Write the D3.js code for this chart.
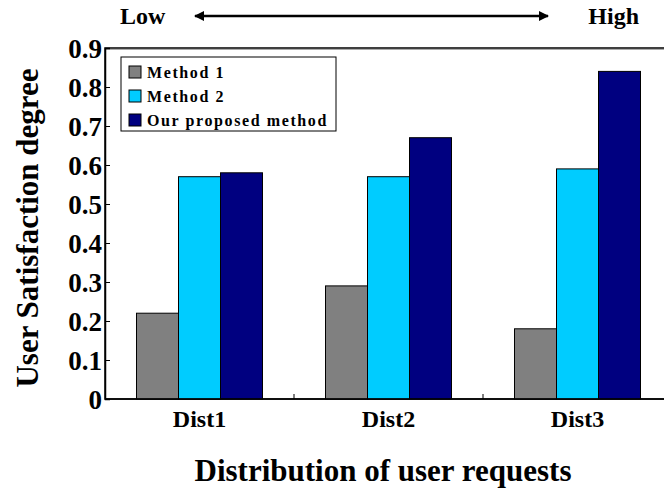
<!DOCTYPE html>
<html><head><meta charset="utf-8">
<script src="https://cdn.jsdelivr.net/npm/d3@7"></script>
<style>body{margin:0;background:#fff}svg{display:block}text{font-family:"Liberation Serif","Times New Roman",Tinos,"DejaVu Serif",serif !important;font-weight:bold;fill:#000}</style>
</head><body>
<svg id="c" width="664" height="491"></svg>
<script>
const categories = ["Dist1", "Dist2", "Dist3"];
const seriesNames = ["Method 1", "Method 2", "Our proposed method"];
const method1 = [0.22, 0.29, 0.18];
const method2 = [0.57, 0.57, 0.59];
const proposed = [0.58, 0.67, 0.84];
const yTicks = [0, 0.1, 0.2, 0.3, 0.4, 0.5, 0.6, 0.7, 0.8, 0.9];
const colors = ["#808080", "#00CCFF", "#000080"];
const series = [method1, method2, proposed];

const svg = d3.select("#c");
const L = 105, R = 672, T = 48, B = 399;
const x = d3.scaleBand().domain(categories).range([L, R]).paddingInner(0).paddingOuter(0);
const xs = d3.scaleBand().domain(d3.range(3)).range([0, x.bandwidth()]).paddingInner(0).paddingOuter(0.75);
const y = d3.scaleLinear().domain([0, 0.9]).range([B, T]);

// frame
svg.append("rect").attr("x", L).attr("y", T).attr("width", R - L).attr("height", B - T)
  .attr("fill", "none").attr("stroke", "#000").attr("stroke-width", 1.5);
svg.append("line").attr("x1", L).attr("x2", R).attr("y1", T + 1.5).attr("y2", T + 1.5).attr("stroke", "#aaa").attr("stroke-width", 1);

// bars
categories.forEach((c, i) => {
  series.forEach((s, j) => {
    svg.append("rect")
      .attr("x", x(c) + xs(j)).attr("y", y(s[i]))
      .attr("width", xs.bandwidth()).attr("height", y(0) - y(s[i]))
      .attr("fill", colors[j]).attr("stroke", "#000").attr("stroke-width", 1);
  });
});

// y axis
const ya = svg.append("g").attr("transform", `translate(${L},0)`)
  .call(d3.axisLeft(y).tickValues(yTicks).tickSize(-5).tickPadding(3).tickFormat(d => d === 0 ? "0" : d3.format(".1f")(d)));
ya.select(".domain").attr("stroke", "#000").attr("stroke-width", 1.5);
ya.selectAll(".tick line").attr("stroke", "#000");
ya.selectAll(".tick text").style("font-size", "27px").attr("dy", "0.34em");

// x axis
const xa = svg.append("g").attr("transform", `translate(0,${B})`)
  .call(d3.axisBottom(x).tickSize(0).tickPadding(11));
xa.select(".domain").remove();
xa.selectAll(".tick text").style("font-size", "24px");
categories.slice(1).forEach(c => {
  svg.append("line").attr("x1", x(c)).attr("x2", x(c)).attr("y1", B).attr("y2", B - 5).attr("stroke", "#000");
});
svg.append("line").attr("x1", L).attr("x2", R).attr("y1", B).attr("y2", B).attr("stroke", "#000").attr("stroke-width", 1.5);

// titles
svg.append("text").attr("x", 383).attr("y", 481).attr("text-anchor", "middle").style("font-size", "31px").text("Distribution of user requests");
svg.append("text").attr("transform", "translate(38,228) rotate(-90)").attr("text-anchor", "middle").style("font-size", "31px").text("User Satisfaction degree");

// Low / High arrow
svg.append("text").attr("x", 120).attr("y", 24).style("font-size", "24px").text("Low");
svg.append("text").attr("x", 639).attr("y", 24).attr("text-anchor", "end").style("font-size", "24px").text("High");
const defs = svg.append("defs");
defs.append("marker").attr("id", "ah").attr("viewBox", "0 0 10 10").attr("refX", 9).attr("refY", 5)
  .attr("markerWidth", 5).attr("markerHeight", 4).attr("orient", "auto-start-reverse")
  .append("path").attr("d", "M0,0L10,5L0,10z").attr("fill", "#000");
svg.append("line").attr("x1", 195).attr("x2", 548).attr("y1", 16).attr("y2", 16)
  .attr("stroke", "#000").attr("stroke-width", 2.5)
  .attr("marker-start", "url(#ah)").attr("marker-end", "url(#ah)");

// legend
const lg = svg.append("g");
lg.append("rect").attr("x", 121).attr("y", 57).attr("width", 215).attr("height", 74)
  .attr("fill", "#fff").attr("stroke", "#000").attr("stroke-width", 1);
seriesNames.forEach((n, j) => {
  const cy = 72 + j * 24;
  lg.append("rect").attr("x", 129).attr("y", cy - 6).attr("width", 12).attr("height", 12)
    .attr("fill", colors[j]).attr("stroke", "#000").attr("stroke-width", 1);
  lg.append("text").attr("x", 147).attr("y", cy + 5.5).style("font-size", "16px").style("letter-spacing", "1.6px").text(n);
});
</script>
</body></html>
